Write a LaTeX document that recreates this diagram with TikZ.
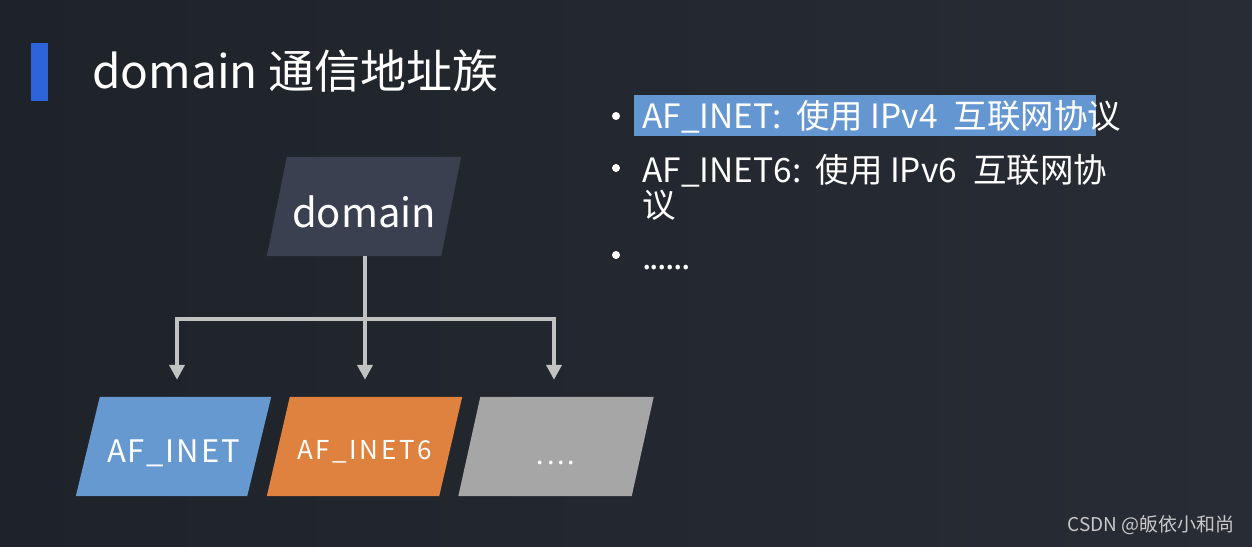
\documentclass[tikz,border=0pt]{standalone}
\usepackage{fontspec}
\setmainfont{Noto Sans CJK SC}
\newfontfamily\boxfont{Noto Sans CJK SC}
\usetikzlibrary{calc,arrows.meta,backgrounds}
\pgfdeclarelayer{bottom}
\pgfsetlayers{bottom,background,main}
\definecolor{bgL}{HTML}{1E2229}
\definecolor{bgR}{HTML}{282C34}
\definecolor{titlebar}{HTML}{2E64DA}
\definecolor{domfill}{HTML}{3B4050}
\definecolor{inetblue}{HTML}{6699D0}
\definecolor{inetorange}{HTML}{E0823F}
\definecolor{moregray}{HTML}{A6A6A6}
\definecolor{connclr}{HTML}{C2C2C2}
\definecolor{hilite}{HTML}{6496D2}
\definecolor{wmclr}{HTML}{C8C8C8}
\newcommand\pgramfill[3]{\fill[#2] ($(#1.north west)+(#3,0)$) -- (#1.north east) -- ($(#1.south east)-(#3,0)$) -- (#1.south west) -- cycle;}
\begin{document}
\begin{tikzpicture}[x=1pt,y=-1pt,
  pbox/.style={rectangle,inner sep=0pt,minimum width=195pt,minimum height=99pt,text=white},
  connector/.style={draw=connclr,line width=4pt},
  arrowed/.style={connector,-{Triangle[length=15pt,width=15pt]},shorten >=17pt},
  bulletdot/.style={circle,fill=white,inner sep=0pt,minimum size=8pt},
  itemtext/.style={anchor=base west,inner sep=0pt,text=white,font=\fontsize{33.5}{34}\selectfont},
]
\begin{pgfonlayer}{bottom}
  \shade[left color=bgL,right color=bgR] (0,0) rectangle (1252,546);
\end{pgfonlayer}
\useasboundingbox (0,0) rectangle (1252,546);

% title
\fill[titlebar] (31,43) rectangle (48,101);
\node[anchor=base west,inner sep=0pt,text=white,font=\fontsize{46}{46}\selectfont] (title) at (92,88) {domain 通信地址族};

% tree
\node[pbox,minimum width=194pt,text height=41pt,text depth=0pt,font=\fontsize{40}{40}\selectfont] (dom) at (364,206.5) {domain};
\node[pbox,text height=31pt,text depth=0pt,font={\boxfont\addfontfeature{LetterSpace=6}\fontsize{31}{31}\selectfont}] (inet) at (173.5,446.5) {AF\_INET};
\node[pbox,text height=26pt,text depth=0pt,font={\boxfont\addfontfeature{LetterSpace=10}\fontsize{26}{26}\selectfont}] (inet6) at (364.5,446.5) {AF\_INET6};
\node[pbox,text height=36pt,text depth=0pt,font={\boxfont\addfontfeature{LetterSpace=10}\fontsize{27}{27}\selectfont}] (more) at (556,446.5) {....};
\begin{scope}[on background layer]
  \pgramfill{dom}{domfill}{20}
  \pgramfill{inet}{inetblue}{24}
  \pgramfill{inet6}{inetorange}{23}
  \pgramfill{more}{moregray}{22}
\end{scope}
\coordinate (hub) at (365,319);
\draw[connector] (dom.south -| hub) -- (hub);
\draw[arrowed] (hub) -| ([xshift=3.5pt]inet.north);
\draw[arrowed] (hub) -- (hub |- inet6.north);
\draw[arrowed] (hub) -| ([xshift=-2pt]more.north);

% bullet list
\fill[hilite] (634,95) rectangle (1096,136);
\node[bulletdot] (b1) at (616,116) {};
\node[bulletdot] (b2) at (616,168) {};
\node[bulletdot] (b3) at (616,255) {};
\node[itemtext] (l1) at (642,128) {AF\_INET:\hspace{14pt}使用 IPv4\hspace{16pt}互联网协议};
\node[itemtext] (l2) at (642,182) {AF\_INET6:\hspace{14pt}使用 IPv6\hspace{16pt}互联网协};
\node[itemtext] (l2b) at (642,217) {议};
\node[itemtext,font={\addfontfeature{LetterSpace=-5}\fontsize{34}{34}\selectfont}] (l3) at (642,269) {......};

% watermark
\node[anchor=base east,inner sep=0pt,text=wmclr,font=\fontsize{19}{19}\selectfont] (wm) at (1235,531) {CSDN @皈依小和尚};
\end{tikzpicture}
\end{document}
